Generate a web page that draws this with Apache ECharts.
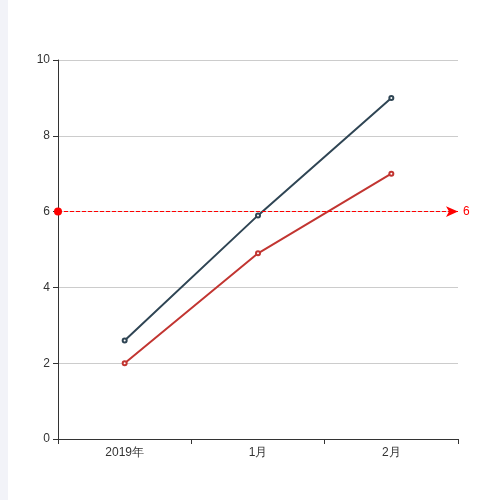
<!DOCTYPE html>
<html><head><meta charset="utf-8">
<script src="https://cdn.jsdelivr.net/npm/echarts@6/dist/echarts.min.js"></script>
<style>
html,body{margin:0;padding:0;background:#f2f3f8;width:500px;height:500px;overflow:hidden;}
#c{position:absolute;left:8px;top:0;width:492px;height:500px;background:#fff;}
</style></head>
<body><div id="c"></div>
<script>
const categories = ['2019年','1月','2月'];
const seriesA = [2.6, 5.9, 9.0];
const seriesB = [2.0, 4.9, 7.0];
const markValue = 6;
const yTicks = {min:0, max:10, interval:2};

const chart = echarts.init(document.getElementById('c'));
chart.setOption({
  animation:false,
  grid:{left:50, right:42, top:60, bottom:61, containLabel:false},
  xAxis:{type:'category', data:categories, boundaryGap:true,
    axisLine:{show:true, lineStyle:{color:'#333'}},
    axisTick:{show:true, length:5, alignWithLabel:false, interval:0, lineStyle:{color:'#333'}},
    axisLabel:{color:'#333', fontSize:12}},
  yAxis:{type:'value', min:yTicks.min, max:yTicks.max, interval:yTicks.interval,
    axisLine:{show:true, lineStyle:{color:'#333'}},
    axisTick:{show:true, length:5, lineStyle:{color:'#333'}},
    axisLabel:{color:'#333', fontSize:12},
    splitLine:{lineStyle:{color:'#ccc'}}},
  series:[
    {type:'line', data:seriesA, symbol:'emptyCircle', symbolSize:4,
      itemStyle:{color:'#2f4554', borderWidth:1}, lineStyle:{width:2, color:'#2f4554'}},
    {type:'line', data:seriesB, symbol:'emptyCircle', symbolSize:4,
      itemStyle:{color:'#c23531', borderWidth:1}, lineStyle:{width:2, color:'#c23531'},
      markLine:{silent:true, symbol:['circle','arrow'], symbolSize:[8,12], precision:0,
        data:[{yAxis:markValue}],
        lineStyle:{color:'#ff0000', type:'dashed', width:1},
        label:{color:'#ff0000', fontSize:12, formatter:'{c}'}}}
  ]
});
</script></body></html>
